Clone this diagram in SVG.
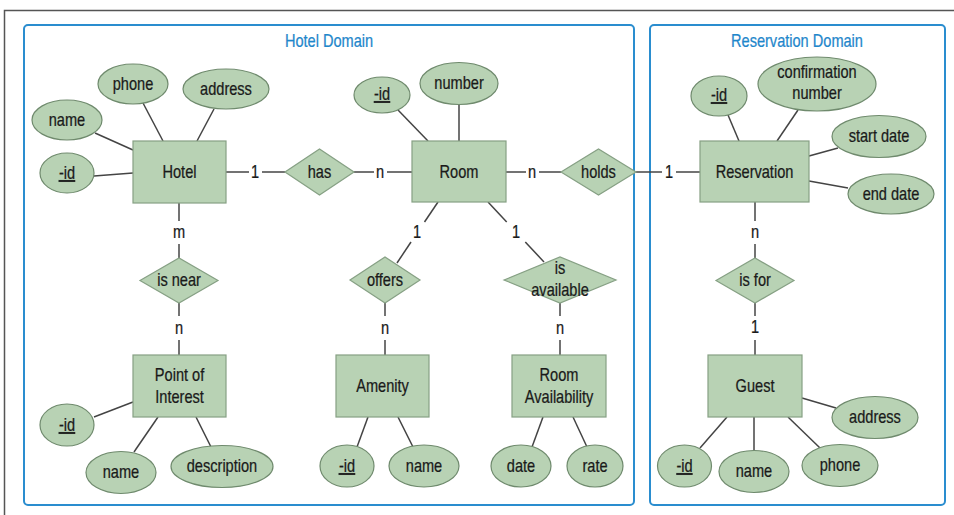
<svg xmlns="http://www.w3.org/2000/svg" width="954" height="515" viewBox="0 0 954 515">
<style>
text{font-family:"Liberation Sans Narrow","Liberation Sans",Arial,sans-serif;font-size:18px;fill:#1a1a1a;stroke:#1a1a1a;stroke-width:0.25;text-anchor:middle;transform-box:fill-box;transform-origin:center;transform:scaleX(0.81)}
.ent{fill:#b8d2b4;stroke:#86a084;stroke-width:1.2}
.att{fill:#b8d2b4;stroke:#6f8a6d;stroke-width:1.2}
.rel{fill:#b8d2b4;stroke:#86a084;stroke-width:1.2}
.dom{fill:none;stroke:#2a8dcf;stroke-width:2}
text.title{fill:#1f87cb;stroke:#1f87cb}
#connectors line{stroke:#444;stroke-width:1.5}
.u{text-decoration:underline}
</style>
<rect width="954" height="515" fill="#fff"/>
<g id="frame" fill="none" stroke="#555" stroke-width="1.5">
<path d="M4.5 515 V10.5 H954"/>
</g>
<g id="hotel-domain">
<rect class="dom" x="24" y="25" width="610" height="480" rx="4"/>
<text class="title" x="329" y="47">Hotel Domain</text>
</g>
<g id="reservation-domain">
<rect class="dom" x="650" y="25" width="295" height="480" rx="4"/>
<text class="title" x="797" y="47">Reservation Domain</text>
</g>
<g id="connectors">
<line x1="143" y1="103" x2="163" y2="141"/>
<line x1="214" y1="109" x2="197" y2="141"/>
<line x1="95" y1="133" x2="133" y2="150"/>
<line x1="94" y1="176" x2="133" y2="173"/>
<line x1="226" y1="172" x2="249" y2="172"/>
<line x1="262" y1="172" x2="285" y2="172"/>
<line x1="354" y1="172" x2="374" y2="172"/>
<line x1="387" y1="172" x2="412" y2="172"/>
<line x1="398" y1="110" x2="428" y2="141"/>
<line x1="459" y1="104" x2="459" y2="141"/>
<line x1="506" y1="172" x2="526" y2="172"/>
<line x1="539" y1="172" x2="561" y2="172"/>
<line x1="636" y1="172" x2="662" y2="172"/>
<line x1="676" y1="172" x2="700" y2="172"/>
<line x1="728" y1="115" x2="739" y2="141"/>
<line x1="798" y1="110" x2="777" y2="141"/>
<line x1="838" y1="148" x2="809" y2="156"/>
<line x1="848" y1="188" x2="809" y2="181"/>
<line x1="179" y1="203" x2="179" y2="221"/>
<line x1="179" y1="244" x2="179" y2="258"/>
<line x1="179" y1="303" x2="179" y2="316"/>
<line x1="179" y1="340" x2="179" y2="355"/>
<line x1="94" y1="417" x2="133" y2="402"/>
<line x1="134" y1="452" x2="158" y2="417"/>
<line x1="211" y1="447" x2="196" y2="417"/>
<line x1="438" y1="202" x2="424.5" y2="222"/>
<line x1="411" y1="242" x2="397" y2="263"/>
<line x1="385" y1="303" x2="385" y2="316"/>
<line x1="385" y1="340" x2="385" y2="355"/>
<line x1="357" y1="447" x2="368" y2="417"/>
<line x1="413" y1="447" x2="398" y2="417"/>
<line x1="488" y1="202" x2="506.7" y2="222"/>
<line x1="525.3" y1="242" x2="544" y2="262"/>
<line x1="560" y1="303" x2="560" y2="316"/>
<line x1="560" y1="340" x2="560" y2="355"/>
<line x1="532" y1="447" x2="543" y2="417"/>
<line x1="587" y1="447" x2="573" y2="417"/>
<line x1="755" y1="202" x2="755" y2="221"/>
<line x1="755" y1="244" x2="755" y2="258"/>
<line x1="755" y1="303" x2="755" y2="316"/>
<line x1="755" y1="340" x2="755" y2="355"/>
<line x1="802" y1="398" x2="836" y2="408"/>
<line x1="700" y1="448" x2="727" y2="417"/>
<line x1="754" y1="451" x2="754" y2="417"/>
<line x1="820" y1="448" x2="788" y2="417"/>
<text x="255" y="178">1</text>
<text x="380" y="178">n</text>
<text x="532" y="178">n</text>
<text x="669" y="178">1</text>
<text x="179" y="238">m</text>
<text x="179" y="334">n</text>
<text x="417" y="238">1</text>
<text x="516" y="238">1</text>
<text x="385" y="334">n</text>
<text x="560" y="334">n</text>
<text x="755" y="238">n</text>
<text x="755" y="333">1</text>
</g>
<g id="hotel"><rect class="ent" x="133" y="141" width="93" height="62"/><text x="179.5" y="178">Hotel</text></g>
<g id="hotel-phone"><ellipse class="att" cx="133" cy="84" rx="35" ry="20"/><text x="133" y="90">phone</text></g>
<g id="hotel-address"><ellipse class="att" cx="226" cy="89" rx="43" ry="20"/><text x="226" y="95">address</text></g>
<g id="hotel-name"><ellipse class="att" cx="67" cy="120" rx="35" ry="20"/><text x="67" y="126">name</text></g>
<g id="hotel-id"><ellipse class="att" cx="67" cy="173" rx="27" ry="20"/><text class="u" x="67" y="179">-id</text></g>
<g id="has"><polygon class="rel" points="285,172 319.5,149 354,172 319.5,195"/><text x="319.5" y="178">has</text></g>
<g id="room"><rect class="ent" x="412" y="141" width="94" height="61"/><text x="459" y="178">Room</text></g>
<g id="room-id"><ellipse class="att" cx="382" cy="95" rx="28" ry="18"/><text class="u" x="382" y="100">-id</text></g>
<g id="room-number"><ellipse class="att" cx="459" cy="83.5" rx="39" ry="21"/><text x="459" y="89">number</text></g>
<g id="holds"><polygon class="rel" points="561,172 598.5,149 636,172 598.5,195"/><text x="598.5" y="178">holds</text></g>
<g id="reservation"><rect class="ent" x="700" y="141" width="109" height="61"/><text x="754.5" y="178">Reservation</text></g>
<g id="reservation-id"><ellipse class="att" cx="719" cy="96" rx="28" ry="20"/><text class="u" x="719" y="101">-id</text></g>
<g id="reservation-confirmation"><ellipse class="att" cx="817" cy="84" rx="59" ry="27"/><text x="817" y="78">confirmation</text><text x="817" y="99">number</text></g>
<g id="reservation-start"><ellipse class="att" cx="879" cy="136.5" rx="47" ry="21"/><text x="879" y="142">start date</text></g>
<g id="reservation-end"><ellipse class="att" cx="891" cy="194" rx="43" ry="20"/><text x="891" y="200">end date</text></g>
<g id="is-near"><polygon class="rel" points="140,280.5 179,258 218,280.5 179,303"/><text x="179" y="286">is near</text></g>
<g id="poi"><rect class="ent" x="133" y="355" width="93" height="62"/><text x="179.5" y="381">Point of</text><text x="179.5" y="403">Interest</text></g>
<g id="poi-id"><ellipse class="att" cx="67" cy="425" rx="27" ry="21"/><text class="u" x="67" y="431">-id</text></g>
<g id="poi-name"><ellipse class="att" cx="121" cy="472.5" rx="35" ry="21"/><text x="121" y="478">name</text></g>
<g id="poi-description"><ellipse class="att" cx="222" cy="466.5" rx="51" ry="21"/><text x="222" y="472">description</text></g>
<g id="offers"><polygon class="rel" points="350,280 385,257 420,280 385,303"/><text x="385" y="286">offers</text></g>
<g id="amenity"><rect class="ent" x="336" y="355" width="93" height="62"/><text x="382.5" y="392">Amenity</text></g>
<g id="amenity-id"><ellipse class="att" cx="347" cy="466" rx="27" ry="21"/><text class="u" x="347" y="472">-id</text></g>
<g id="amenity-name"><ellipse class="att" cx="424" cy="466" rx="35" ry="21"/><text x="424" y="472">name</text></g>
<g id="is-available"><polygon class="rel" points="504,280 560,257 616,280 560,303"/><text x="560" y="274">is</text><text x="560" y="296">available</text></g>
<g id="room-availability"><rect class="ent" x="512" y="355" width="94" height="62"/><text x="559" y="381">Room</text><text x="559" y="403">Availability</text></g>
<g id="ra-date"><ellipse class="att" cx="521" cy="466" rx="30" ry="21"/><text x="521" y="472">date</text></g>
<g id="ra-rate"><ellipse class="att" cx="595" cy="466" rx="28" ry="21"/><text x="595" y="472">rate</text></g>
<g id="is-for"><polygon class="rel" points="716,280.5 755,258 794,280.5 755,303"/><text x="755" y="286">is for</text></g>
<g id="guest"><rect class="ent" x="708" y="355" width="94" height="62"/><text x="755" y="392">Guest</text></g>
<g id="guest-address"><ellipse class="att" cx="875" cy="417.5" rx="43" ry="21"/><text x="875" y="423">address</text></g>
<g id="guest-id"><ellipse class="att" cx="684.5" cy="466" rx="27" ry="21"/><text class="u" x="684.5" y="472">-id</text></g>
<g id="guest-name"><ellipse class="att" cx="754" cy="471.5" rx="35" ry="21"/><text x="754" y="477">name</text></g>
<g id="guest-phone"><ellipse class="att" cx="840" cy="465.5" rx="38" ry="21"/><text x="840" y="471">phone</text></g>
</svg>
